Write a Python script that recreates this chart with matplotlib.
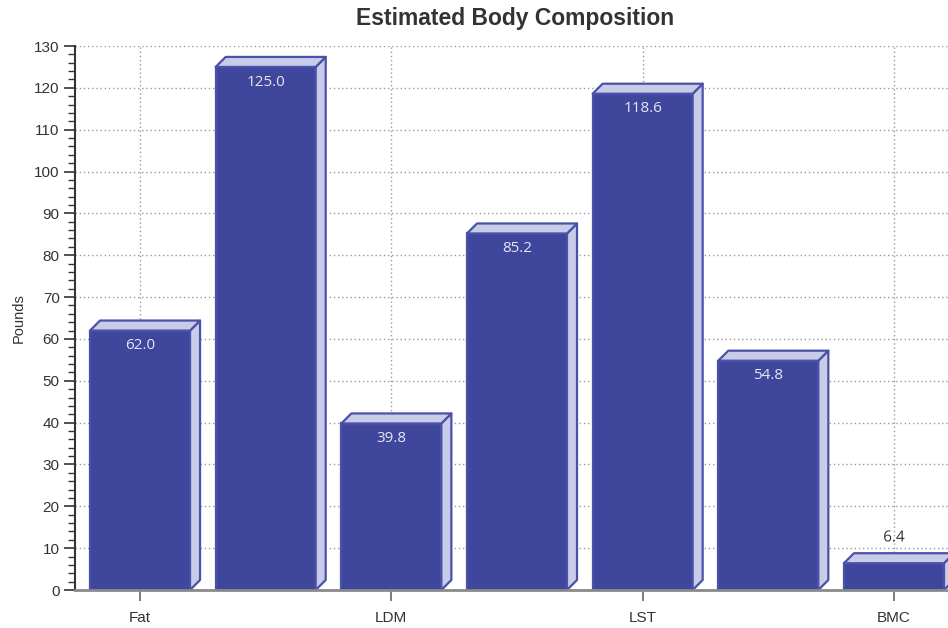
import matplotlib
matplotlib.use("Agg")
import matplotlib.pyplot as plt
from matplotlib.patches import Polygon
import matplotlib.patheffects as pe
from matplotlib.ticker import MultipleLocator

# Body composition values (pounds)
values = [62.0, 125.0, 39.8, 85.2, 118.6, 54.8, 6.4]
tick_positions = [0, 2, 4, 6]
tick_labels = ["Fat", "LDM", "LST", "BMC"]

front_color = "#3F479C"
face_color = "#C9CCE8"
edge_color = "#4A51A8"

fig = plt.figure(figsize=(9.48, 6.28), dpi=100)
ax = fig.add_axes([75 / 948, 38 / 628, 873 / 948, 544 / 628])

ax.set_xlim(-0.5175, 6.43)
ax.set_ylim(0, 130)

bar_w = 0.796
# extrusion depth, in data units (about 10 px each way)
dx = 10 / 125.6
dy = 10 / (544 / 130)

x = list(range(len(values)))
bars = ax.bar(x, values, width=bar_w, color=front_color, edgecolor=edge_color,
              linewidth=1.6, zorder=3)

for b, v in zip(bars, values):
    x0 = b.get_x()
    x1 = x0 + b.get_width()
    top = Polygon([(x0, v), (x0 + dx, v + dy), (x1 + dx, v + dy), (x1, v)],
                  closed=True, facecolor=face_color, edgecolor=edge_color,
                  linewidth=1.6, zorder=3, joinstyle="round")
    side = Polygon([(x1, 0), (x1, v), (x1 + dx, v + dy), (x1 + dx, dy)],
                   closed=True, facecolor=face_color, edgecolor=edge_color,
                   linewidth=1.6, zorder=3, joinstyle="round")
    ax.add_patch(side)
    ax.add_patch(top)
    cx = x0 + bar_w / 2
    if v > 15:
        ax.annotate(f"{v:.1f}", (cx, v), xytext=(0, -11), textcoords="offset points",
                    ha="center", va="center", fontsize=11, color="#E6E6F2",
                    family="Open Sans", zorder=5)
    else:
        ax.annotate(f"{v:.1f}", (cx, v + dy), xytext=(0, 11), textcoords="offset points",
                    ha="center", va="center", fontsize=11, color="#333333",
                    family="Open Sans", zorder=5,
                    path_effects=[pe.withStroke(linewidth=2.5, foreground="white")])

# grid
ax.yaxis.set_major_locator(MultipleLocator(10))
ax.yaxis.set_minor_locator(MultipleLocator(2))
ax.set_xticks(tick_positions)
ax.set_xticklabels(tick_labels)
ax.grid(True, which="major", axis="both", color="#9A9A9A", linestyle=(0, (1, 2)),
        linewidth=1.0, zorder=0)
ax.set_axisbelow(True)

for side_name in ["top", "right"]:
    ax.spines[side_name].set_visible(False)
ax.spines["left"].set_color("#333333")
ax.spines["left"].set_linewidth(1.5)
ax.spines["bottom"].set_color("#8A8A8A")
ax.spines["bottom"].set_linewidth(2)
ax.spines["bottom"].set_zorder(4)

ax.tick_params(axis="y", which="major", length=8, width=1.2, color="#333333",
               labelsize=11, labelcolor="#333333", pad=3)
ax.tick_params(axis="y", which="minor", length=5, width=1.0, color="#333333")
ax.tick_params(axis="x", length=8, width=1.2, color="#666666", labelsize=11,
               labelcolor="#333333", pad=7)
for lab in ax.get_xticklabels() + ax.get_yticklabels():
    lab.set_family("Liberation Sans")

ax.set_ylabel("Pounds", fontsize=10.5, color="#333333", family="Liberation Sans",
              labelpad=6)
fig.text(515 / 948, 1 - 19 / 628, "Estimated Body Composition", ha="center",
         va="center", fontsize=16.5, fontweight="bold", color="#333333",
         family="Liberation Sans")

fig.savefig("out.png", dpi=100)
